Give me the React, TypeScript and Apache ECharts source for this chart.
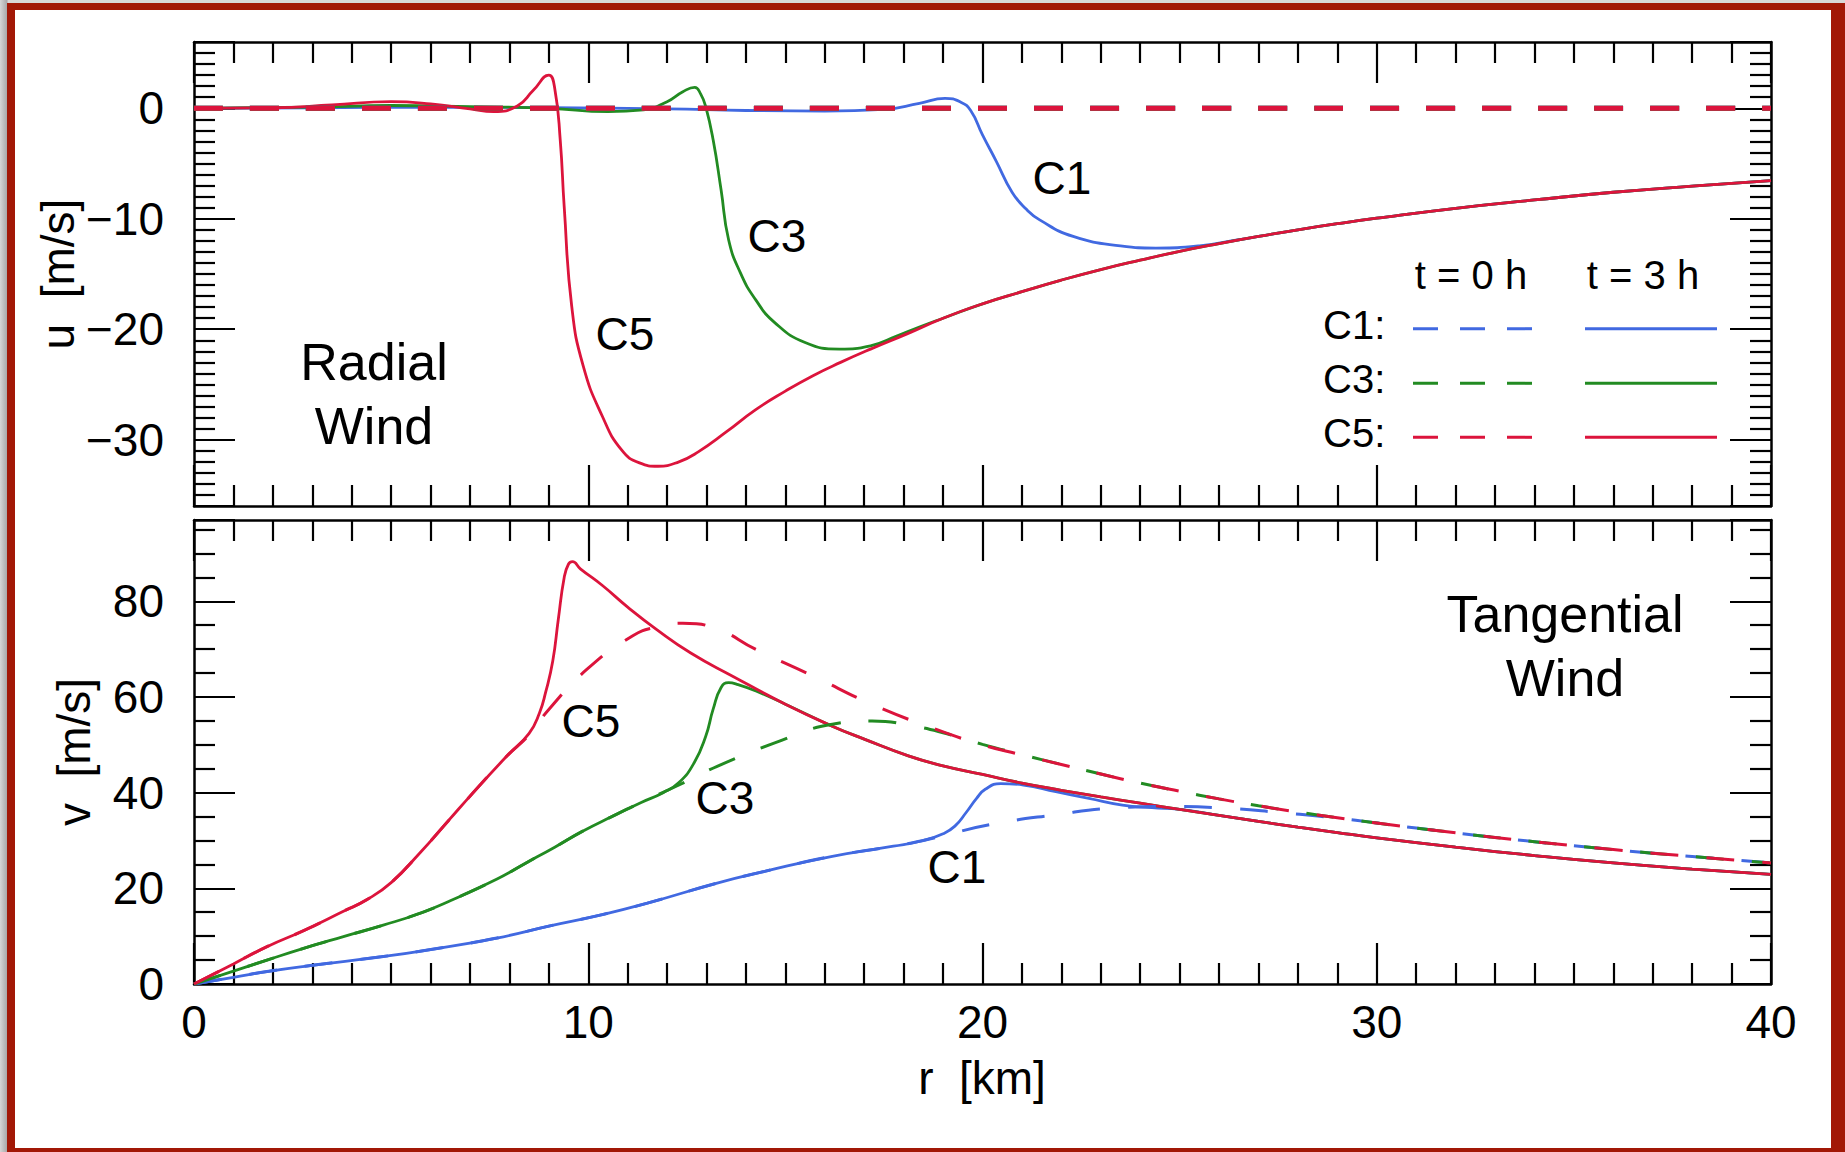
import React, { useEffect, useRef } from "react";
import * as echarts from "echarts";

// ---------- data (r in km) ----------
// Radial wind u [m/s], t = 3 h
const uC1 = [[0,0],[3,0.05],[6,0.1],[9,0.05],[12,-0.05],[14,-0.2],[16,-0.25],[17.5,-0.1],[18.4,0.45],[19.05,0.9],[19.45,0.55],[19.7,-0.2],[20.0,-2.4],[20.35,-4.8],[20.75,-7.6],[21.1,-9.1],[21.45,-10.1],[22.3,-11.6],[23.5,-12.45],[24.4,-12.65],[25.5,-12.45],[26.5,-11.9],[27,-11.6],[28,-11.0],[29,-10.45],[30,-9.95],[32,-9.05],[34,-8.3],[36,-7.6],[38,-7.05],[40,-6.55]];
const uC3 = [[0,0],[3,0.1],[5,0.25],[7,0.15],[9,0],[10.5,-0.3],[11.4,-0.15],[12.0,0.6],[12.4,1.5],[12.7,1.9],[12.85,1.3],[12.98,0.15],[13.17,-2.9],[13.37,-7.4],[13.56,-11.9],[13.86,-14.9],[14.24,-17.3],[14.73,-19.4],[15.5,-21.2],[16.37,-21.8],[17.16,-21.5],[17.84,-20.6],[18.4,-19.8],[19,-19.0],[20,-17.7],[21,-16.6],[22,-15.55],[23,-14.6],[24,-13.75],[25,-12.95],[26,-12.25],[27,-11.6],[28,-11.0],[29,-10.45],[30,-9.95],[32,-9.05],[34,-8.3],[36,-7.6],[38,-7.05],[40,-6.55]];
const uC5 = [[0,0],[2,0.05],[3.5,0.3],[5,0.6],[6,0.4],[7,-0.05],[7.6,-0.3],[8.2,0.2],[8.6,1.6],[9.0,3.0],[9.15,1.8],[9.29,-2.9],[9.39,-8.9],[9.58,-17.9],[9.87,-23.3],[10.36,-27.9],[10.84,-30.9],[11.3,-32.1],[11.77,-32.4],[12.3,-32.0],[12.79,-31.1],[13.5,-29.3],[14.24,-27.3],[15.0,-25.6],[15.7,-24.2],[16.4,-23.0],[17.16,-21.8],[18.1,-20.4],[19,-19.0],[20,-17.7],[21,-16.6],[22,-15.55],[23,-14.6],[24,-13.75],[25,-12.95],[26,-12.25],[27,-11.6],[28,-11.0],[29,-10.45],[30,-9.95],[32,-9.05],[34,-8.3],[36,-7.6],[38,-7.05],[40,-6.55]];
// Radial wind u [m/s], t = 0 h
const uT0 = [[0,0],[40,0]];

// Tangential wind v [m/s], t = 3 h
const vC1 = [[0,0],[1,1.4],[1.85,2.6],[3,3.9],[4.76,5.7],[6,7.2],[7.68,9.6],[9,12.1],[10.3,14.4],[11.5,16.9],[13.27,21.1],[14.5,23.6],[16.19,26.7],[17.74,28.8],[18.5,30.0],[19.0,31.4],[19.3,33.0],[19.58,35.8],[19.85,38.8],[20.07,40.7],[20.46,41.9],[21.04,41.6],[21.86,40.2],[22.7,38.8],[23.55,37.4],[24.3,36.85],[25,36.5],[26,35.25],[27,34.0],[28,32.8],[29,31.65],[30,30.55],[32,28.6],[34,26.85],[36,25.3],[38,24.0],[40,22.9]];
const vC3 = [[0,0],[1,2.7],[1.85,5.0],[2.8,7.5],[3.79,9.9],[4.8,12.3],[5.74,14.8],[6.5,17.4],[7.7,22.0],[8.4,25.2],[9.15,28.6],[9.87,32.0],[10.6,35.0],[11.33,37.9],[11.9,40.0],[12.3,42.1],[12.69,46.3],[12.98,51.8],[13.17,57.5],[13.37,62.0],[13.56,63.0],[13.8,62.6],[14.24,61.3],[15,58.5],[16.19,53.9],[17,51.2],[18.12,47.7],[19,45.6],[20,43.8],[21,42.0],[22,40.5],[23,39.1],[24,37.8],[25,36.5],[26,35.25],[27,34.0],[28,32.8],[29,31.65],[30,30.55],[32,28.6],[34,26.85],[36,25.3],[38,24.0],[40,22.9]];
const vC5 = [[0,0],[1,4.2],[1.85,7.8],[2.82,11.3],[3.79,15.2],[4.38,17.6],[5.0,21.2],[5.74,27.5],[6.47,34.3],[7.06,39.8],[7.93,47.6],[8.5,52.4],[8.76,56.6],[8.92,61.0],[9.1,67.5],[9.24,76.2],[9.39,85.0],[9.5,87.8],[9.6,88.3],[9.8,86.8],[10.36,83.3],[11,78.8],[11.72,74.2],[12.6,69.2],[13.65,64.4],[15,58.5],[16.19,53.9],[17,51.2],[18.12,47.7],[19,45.6],[20,43.8],[21,42.0],[22,40.5],[23,39.1],[24,37.8],[25,36.5],[26,35.25],[27,34.0],[28,32.8],[29,31.65],[30,30.55],[32,28.6],[34,26.85],[36,25.3],[38,24.0],[40,22.9]];
// Tangential wind v [m/s], t = 0 h
const vC1t0 = [[0,0],[1,1.4],[1.85,2.6],[3,3.9],[4.76,5.7],[6,7.2],[7.68,9.6],[9,12.1],[10.3,14.4],[11.5,16.9],[13.27,21.1],[14.5,23.6],[16.19,26.7],[17.74,28.8],[18.5,30.0],[19.1,31.2],[20.18,33.3],[21.87,35.4],[23.3,36.75],[24.7,37.1],[26.2,36.75],[27.6,35.8],[28.5,35.1],[29.3,34.4],[30,33.65],[32,31.6],[34,29.75],[36,28.1],[38,26.65],[40,25.3]];
const vC3t0 = [[0,0],[1,2.7],[1.85,5.0],[2.8,7.5],[3.79,9.9],[4.8,12.3],[5.74,14.8],[6.5,17.4],[7.7,22.0],[8.4,25.2],[9.15,28.6],[9.87,32.0],[10.6,35.0],[11.33,37.9],[12.3,41.6],[13.27,45.5],[14.73,50.4],[16.19,54.3],[17.2,55.0],[18.2,54.0],[19.1,52.3],[20,50.1],[21,47.95],[22,45.9],[23,43.9],[24,42.0],[25,40.3],[26,38.7],[27,37.25],[28,35.95],[29,34.75],[30,33.65],[32,31.6],[34,29.75],[36,28.1],[38,26.65],[40,25.3]];
const vC5t0 = [[0,0],[1,4.2],[1.85,7.8],[2.82,11.3],[3.79,15.2],[4.38,17.6],[5.0,21.2],[5.74,27.5],[6.47,34.3],[7.06,39.8],[7.93,47.6],[8.51,52.2],[9.0,57.4],[9.97,65.8],[11.13,72.8],[11.72,74.6],[12.4,75.4],[13.27,74.2],[14.24,70.0],[15.7,64.4],[17.16,58.6],[18.6,53.9],[20,50.0],[21,47.9],[22,45.9],[23,43.9],[24,42.0],[25,40.3],[26,38.7],[27,37.25],[28,35.95],[29,34.75],[30,33.65],[32,31.6],[34,29.75],[36,28.1],[38,26.65],[40,25.3]];

const caseNames = ["C1:", "C3:", "C5:"];
const timeLabels = ["t = 0 h", "t = 3 h"];

const FONT = "'Liberation Sans', Arial, Helvetica, sans-serif";
const BLUE = "#4169e1";
const GREEN = "#228b22";
const RED = "#dc143c";
const COLORS = [BLUE, GREEN, RED];

const GL = 194, GW = 1577, GH = 464, GT1 = 42, GT2 = 520;

function fmt(v: number) {
  return v < 0 ? "\u2212" + Math.abs(v) : String(v);
}

function xAxisDef(grid: number, pos: string, labels: boolean) {
  return {
    type: "value", gridIndex: grid, position: pos, min: 0, max: 40, interval: 10,
    axisLine: { show: true, onZero: false, lineStyle: { color: "#000", width: 2.5 } },
    axisTick: { show: true, inside: true, length: 41, lineStyle: { color: "#000", width: 2.2 } },
    minorTick: { show: true, splitNumber: 10, length: 21, lineStyle: { color: "#000", width: 2.2 } },
    splitLine: { show: false },
    minorSplitLine: { show: false },
    axisLabel: labels
      ? { show: true, fontSize: 46, color: "#000", fontFamily: FONT, margin: 15 }
      : { show: false },
  };
}

function yAxisDef(grid: number, pos: string, labels: boolean, extra: any) {
  return {
    type: "value", gridIndex: grid, position: pos,
    axisLine: { show: true, onZero: false, lineStyle: { color: "#000", width: 2.5 } },
    axisTick: { show: true, inside: true, length: 41, lineStyle: { color: "#000", width: 2.2 } },
    splitLine: { show: false },
    minorSplitLine: { show: false },
    axisLabel: labels
      ? { show: true, fontSize: 46, color: "#000", fontFamily: FONT, margin: 30, formatter: fmt,
          showMinLabel: extra.showMinLabel, showMaxLabel: false, padding: [12, 0, 0, 0] }
      : { show: false },
    ...extra.base,
  };
}

function txt(x: number, y: number, text: string, size: number, extra: any = {}) {
  return {
    type: "text", x, y, ...extra,
    style: {
      text, fontSize: size, fontFamily: FONT, fill: "#000",
      align: extra.align || "center", verticalAlign: "middle",
      textAlign: extra.align || "center", textVerticalAlign: "middle",
    },
  };
}

function line(data: number[][], xi: number, yi: number, color: string, width: number, dash?: number[]) {
  return {
    type: "line", xAxisIndex: xi, yAxisIndex: yi, data,
    showSymbol: false, symbol: "none", smooth: 0.5,
    lineStyle: { color, width, type: dash ? dash : "solid" },
    emphasis: { disabled: true },
  };
}

export default function App() {
  const ref = useRef<HTMLDivElement>(null);

  useEffect(() => {
    if (!ref.current) return;
    const chart = echarts.init(ref.current, undefined, { renderer: "svg" });
    const topYBase = { min: -36, max: 6, minorTick: { show: true, splitNumber: 10, length: 21, lineStyle: { color: "#000", width: 2.2 } } };
    const botYBase = { min: 0, max: 97, interval: 20, minorTick: { show: true, splitNumber: 4, length: 21, lineStyle: { color: "#000", width: 2.2 } } };

    const legendRows = [328.7, 383.3, 437.3];
    const legend: any[] = [];
    legendRows.forEach((y, i) => {
      legend.push(txt(1323, y - 4, caseNames[i], 40, { align: "left" }));
      legend.push({ type: "line", shape: { x1: 1413, y1: y, x2: 1532, y2: y }, style: { stroke: COLORS[i], lineWidth: 3, lineDash: [25, 22] } });
      legend.push({ type: "line", shape: { x1: 1585, y1: y, x2: 1717, y2: y }, style: { stroke: COLORS[i], lineWidth: 3 } });
    });
    legend.push(txt(1471, 275, timeLabels[0], 40));
    legend.push(txt(1643, 275, timeLabels[1], 40));

    const option: any = {
      animation: false,
      backgroundColor: "transparent",
      grid: [
        { left: GL, top: GT1, width: GW, height: GH, containLabel: false },
        { left: GL, top: GT2, width: GW, height: GH, containLabel: false },
      ],
      xAxis: [
        xAxisDef(0, "bottom", false),
        xAxisDef(0, "top", false),
        xAxisDef(1, "bottom", true),
        xAxisDef(1, "top", false),
      ],
      yAxis: [
        yAxisDef(0, "left", true, { base: topYBase, showMinLabel: false }),
        yAxisDef(0, "right", false, { base: topYBase }),
        yAxisDef(1, "left", true, { base: botYBase, showMinLabel: true }),
        yAxisDef(1, "right", false, { base: botYBase }),
      ],
      series: [
        line(uC1, 0, 0, BLUE, 2.8),
        line(uC3, 0, 0, GREEN, 2.8),
        line(uC5, 0, 0, RED, 2.8),
        line(uT0, 0, 0, BLUE, 5, [29, 27]),
        line(uT0, 0, 0, GREEN, 5, [29, 27]),
        line(uT0, 0, 0, RED, 5, [29, 27]),
        line(vC1, 2, 2, BLUE, 2.8),
        line(vC3, 2, 2, GREEN, 2.8),
        line(vC5, 2, 2, RED, 2.8),
        line(vC1t0, 2, 2, BLUE, 3, [28, 28]),
        line(vC3t0, 2, 2, GREEN, 3, [28, 28]),
        line(vC5t0, 2, 2, RED, 3, [28, 28]),
      ],
      graphic: {
        elements: [
          txt(58, 274, "u\u00a0\u00a0[m/s]", 46, { rotation: Math.PI / 2 }),
          txt(74, 752, "v\u00a0\u00a0[m/s]", 46, { rotation: Math.PI / 2 }),
          txt(982, 1078, "r\u00a0\u00a0[km]", 46),
          txt(374, 362, "Radial", 52),
          txt(374, 426, "Wind", 52),
          txt(1565, 614, "Tangential", 52),
          txt(1565, 678, "Wind", 52),
          txt(1062, 178, "C1", 46),
          txt(777, 236, "C3", 46),
          txt(625, 334, "C5", 46),
          txt(591, 721, "C5", 46),
          txt(725, 798, "C3", 46),
          txt(957, 867, "C1", 46),
          ...legend,
        ],
      },
    };
    chart.setOption(option);
    return () => chart.dispose();
  }, []);

  return (
    <div style={{ position: "absolute", left: 0, top: 0, width: 1845, height: 1152, overflow: "hidden", background: "linear-gradient(to right, #d6d6d6, #a8a8a8 7px, #d8d8d8 8px)" }}>
      <div style={{ position: "absolute", left: 7, top: 3, right: 0, bottom: 0, background: "#a21806" }} />
      <div style={{ position: "absolute", left: 15, top: 10, width: 1816, height: 1138, background: "#ffffff" }} />
      <div ref={ref} style={{ position: "absolute", left: 0, top: 0, width: 1845, height: 1152 }} />
    </div>
  );
}
